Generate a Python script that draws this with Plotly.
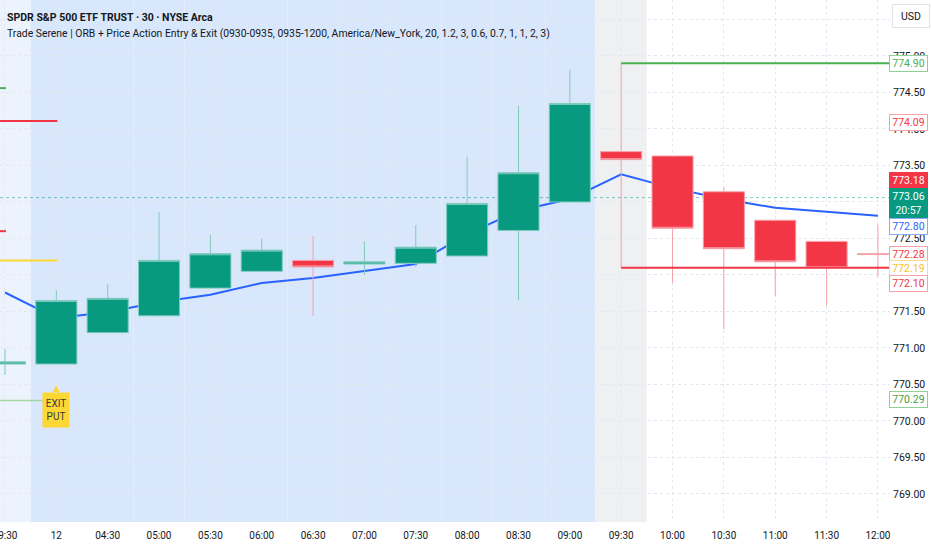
import plotly.graph_objects as go

# 30 min bars, SPY, previous-day post market + day 12 pre market and regular session
times = ["19:30", "12", "04:30", "05:00", "05:30", "06:00", "06:30", "07:00", "07:30",
         "08:00", "08:30", "09:00", "09:30", "10:00", "10:30", "11:00", "11:30", "12:00"]
opens = [770.78, 770.78, 771.21, 771.44, 771.82, 772.05, 772.20, 772.15, 772.16,
         772.26, 772.61, 773.00, 773.69, 773.63, 773.14, 772.75, 772.46, 772.29]
highs = [770.99, 771.79, 771.87, 772.86, 772.55, 772.50, 772.53, 772.46, 772.68,
         773.62, 774.32, 774.81, 774.90, 773.63, 773.20, 772.75, 772.46, 772.69]
lows = [770.63, 770.78, 771.21, 771.44, 771.82, 772.05, 771.44, 772.00, 772.11,
        772.26, 771.65, 773.00, 772.10, 771.89, 771.26, 771.71, 771.58, 771.98]
closes = [770.81, 771.65, 771.68, 772.20, 772.29, 772.34, 772.11, 772.18, 772.38,
          772.98, 773.40, 774.35, 773.58, 772.64, 772.36, 772.18, 772.10, 772.28]
ema = [771.76, 771.41, 771.49, 771.63, 771.73, 771.89, 771.96, 772.05, 772.15,
       772.56, 772.88, 773.04, 773.38, 773.19, 773.04, 772.92, 772.86, 772.81]
sessions = ["post"] + ["pre"] * 11 + ["orb"] + ["reg"] * 5

# indicator levels drawn on the left (price, colour, last bar)
level_prices = [774.56, 774.11, 772.60, 772.20, 770.28]
level_colors = ["#4caf50", "#f23645", "#f23645", "#fdd835", "#a5d6a7"]
level_ends = ["19:30", "12", "19:30", "12", "12"]
level_widths = [2, 2, 2, 2, 1.5]

orb_high = 774.90
orb_low = 772.10
orb_start = "09:30"
last_price = 773.06
exit_bar = "12"
exit_price = 770.29

# price scale labels: price, text, text colour, border colour, fill, shift
tag_prices = [774.90, 774.09, 773.18, 773.06, 772.80, 772.28, 772.19, 772.10, 770.29]
tag_texts = ["774.90", "774.09", "773.18", "773.06<br>20:57", "772.80", "772.28",
             "772.19", "772.10", "770.29"]
tag_fonts = ["#4caf50", "#f23645", "white", "white", "#2962ff", "#f23645",
             "#f9c02a", "#f23645", "#43a047"]
tag_borders = ["#8fd095", "#f7a1aa", "#f23645", "#089981", "#8ea9ff", "#f7a1aa",
               "#f7dd8f", "#f7a1aa", "#8fd095"]
tag_fills = ["white", "white", "#f23645", "#089981", "white", "white", "white", "white", "white"]
tag_shifts = [0, 0, 8, -6, -10, 0, -7, -16, 0]

band_colors = {"post": "#edf3fd", "pre": "#d8e7fc", "orb": "#eff0f2", "reg": "white"}

FONT = "Roboto"
x_lo, x_hi = -0.097, 17.235

fig = go.Figure()

fig.add_trace(go.Scatter(x=times, y=ema, mode="lines", line=dict(color="#2962ff", width=2),
                         zorder=-1, showlegend=False, hoverinfo="skip"))

fig.add_trace(go.Candlestick(
    x=times, open=opens, high=highs, low=lows, close=closes,
    increasing=dict(line=dict(color="#7fcbbd", width=1), fillcolor="#089981"),
    decreasing=dict(line=dict(color="#f7a1aa", width=1), fillcolor="#f23645"),
    whiskerwidth=0, showlegend=False))

# session backgrounds
for i, s in enumerate(sessions):
    if s == "reg":
        continue
    fig.add_shape(type="rect", xref="x", yref="y domain", x0=i - 0.5, x1=i + 0.5, y0=0, y1=1,
                  fillcolor=band_colors[s], line_width=0, layer="below")

# current price dotted line
fig.add_shape(type="line", xref="x domain", yref="y", x0=0, x1=1, y0=last_price, y1=last_price,
              line=dict(color="rgba(8,153,129,0.5)", width=1, dash="dot"), layer="below")

# left side levels
for p, c, e, w in zip(level_prices, level_colors, level_ends, level_widths):
    fig.add_shape(type="line", xref="x", yref="y", x0=x_lo, x1=times.index(e) + 0.02,
                  y0=p, y1=p, line=dict(color=c, width=w), layer="above")

# opening range
k = times.index(orb_start)
fig.add_shape(type="line", xref="x", yref="y", x0=k, x1=x_hi, y0=orb_high, y1=orb_high,
              line=dict(color="#4caf50", width=2), layer="above")
fig.add_shape(type="line", xref="x", yref="y", x0=k, x1=x_hi, y0=orb_low, y1=orb_low,
              line=dict(color="#f23645", width=2), layer="above")

# exit label
j = times.index(exit_bar)
fig.add_annotation(x=j, y=exit_price, xref="x", yref="y", text="EXIT<br>PUT",
                   showarrow=False, yshift=-10, bgcolor="#fdd835", width=24, height=32,
                   font=dict(family=FONT, size=10, color="#3a3a3a"))
fig.add_annotation(x=j, y=exit_price, xref="x", yref="y", text="▲",
                   showarrow=False, yshift=12, font=dict(family="DejaVu Sans", size=9, color="#fdd835"))

# price scale tags
for p, t, fc, bc, fl, sh in zip(tag_prices, tag_texts, tag_fonts, tag_borders, tag_fills, tag_shifts):
    fig.add_annotation(x=889 / 932, xref="paper", y=p, yref="y", xanchor="left", yanchor="middle",
                       text=t, showarrow=False, yshift=sh, width=35, bgcolor=fl, bordercolor=bc,
                       borderwidth=1, borderpad=1, font=dict(family=FONT, size=10.5, color=fc))

fig.add_annotation(x=911 / 932, y=1 - 16 / 550, xref="paper", yref="paper", text="USD",
                   xanchor="center", yanchor="middle", width=30, height=16,
                   showarrow=False, bordercolor="#e0e3eb", borderwidth=1, borderpad=3,
                   bgcolor="white", font=dict(family=FONT, size=10.5, color="#131722"))

# header
fig.add_annotation(x=5 / 932, y=1 - 18 / 550, xref="paper", yref="paper", xanchor="left",
                   yanchor="middle", text="<b>SPDR S&P 500 ETF TRUST · 30 · NYSE Arca</b>",
                   showarrow=False, font=dict(family=FONT, size=10.5, color="#131722"))
fig.add_annotation(x=5 / 932, y=1 - 34 / 550, xref="paper", yref="paper", xanchor="left",
                   yanchor="middle",
                   text="Trade Serene | ORB + Price Action Entry & Exit (0930-0935, 0935-1200, "
                        "America/New_York, 20, 1.2, 3, 0.6, 0.7, 1, 1, 2, 3)",
                   showarrow=False, font=dict(family=FONT, size=10.4, color="#131722"))

fig.update_layout(
    width=932, height=550, margin=dict(l=0, r=0, t=0, b=0),
    paper_bgcolor="white", plot_bgcolor="white", boxgap=0.2, boxgroupgap=0,
    xaxis=dict(type="category", categoryorder="array", categoryarray=times,
               range=[x_lo, x_hi], domain=[0, 890 / 932], rangeslider=dict(visible=False),
               showgrid=True, gridcolor="#e3e7ef", griddash="dot", gridwidth=1,
               ticks="", showline=False, zeroline=False, automargin=False,
               ticklabelstandoff=6,
               tickfont=dict(family=FONT, size=10, color="#131722")),
    yaxis=dict(side="right", range=[768.616, 775.767], domain=[28 / 550, 1], dtick=0.5,
               tick0=769, tickformat=".2f", showgrid=True, gridcolor="#e3e7ef", griddash="dot",
               ticks="", showline=False, zeroline=False, automargin=False,
               ticklabelstandoff=2,
               tickfont=dict(family=FONT, size=10.5, color="#131722")),
)

# page body margin would push the chart 8px right and down
fig.write_html("out.html", config={"displayModeBar": False},
               post_script="document.body.style.margin='0';")
